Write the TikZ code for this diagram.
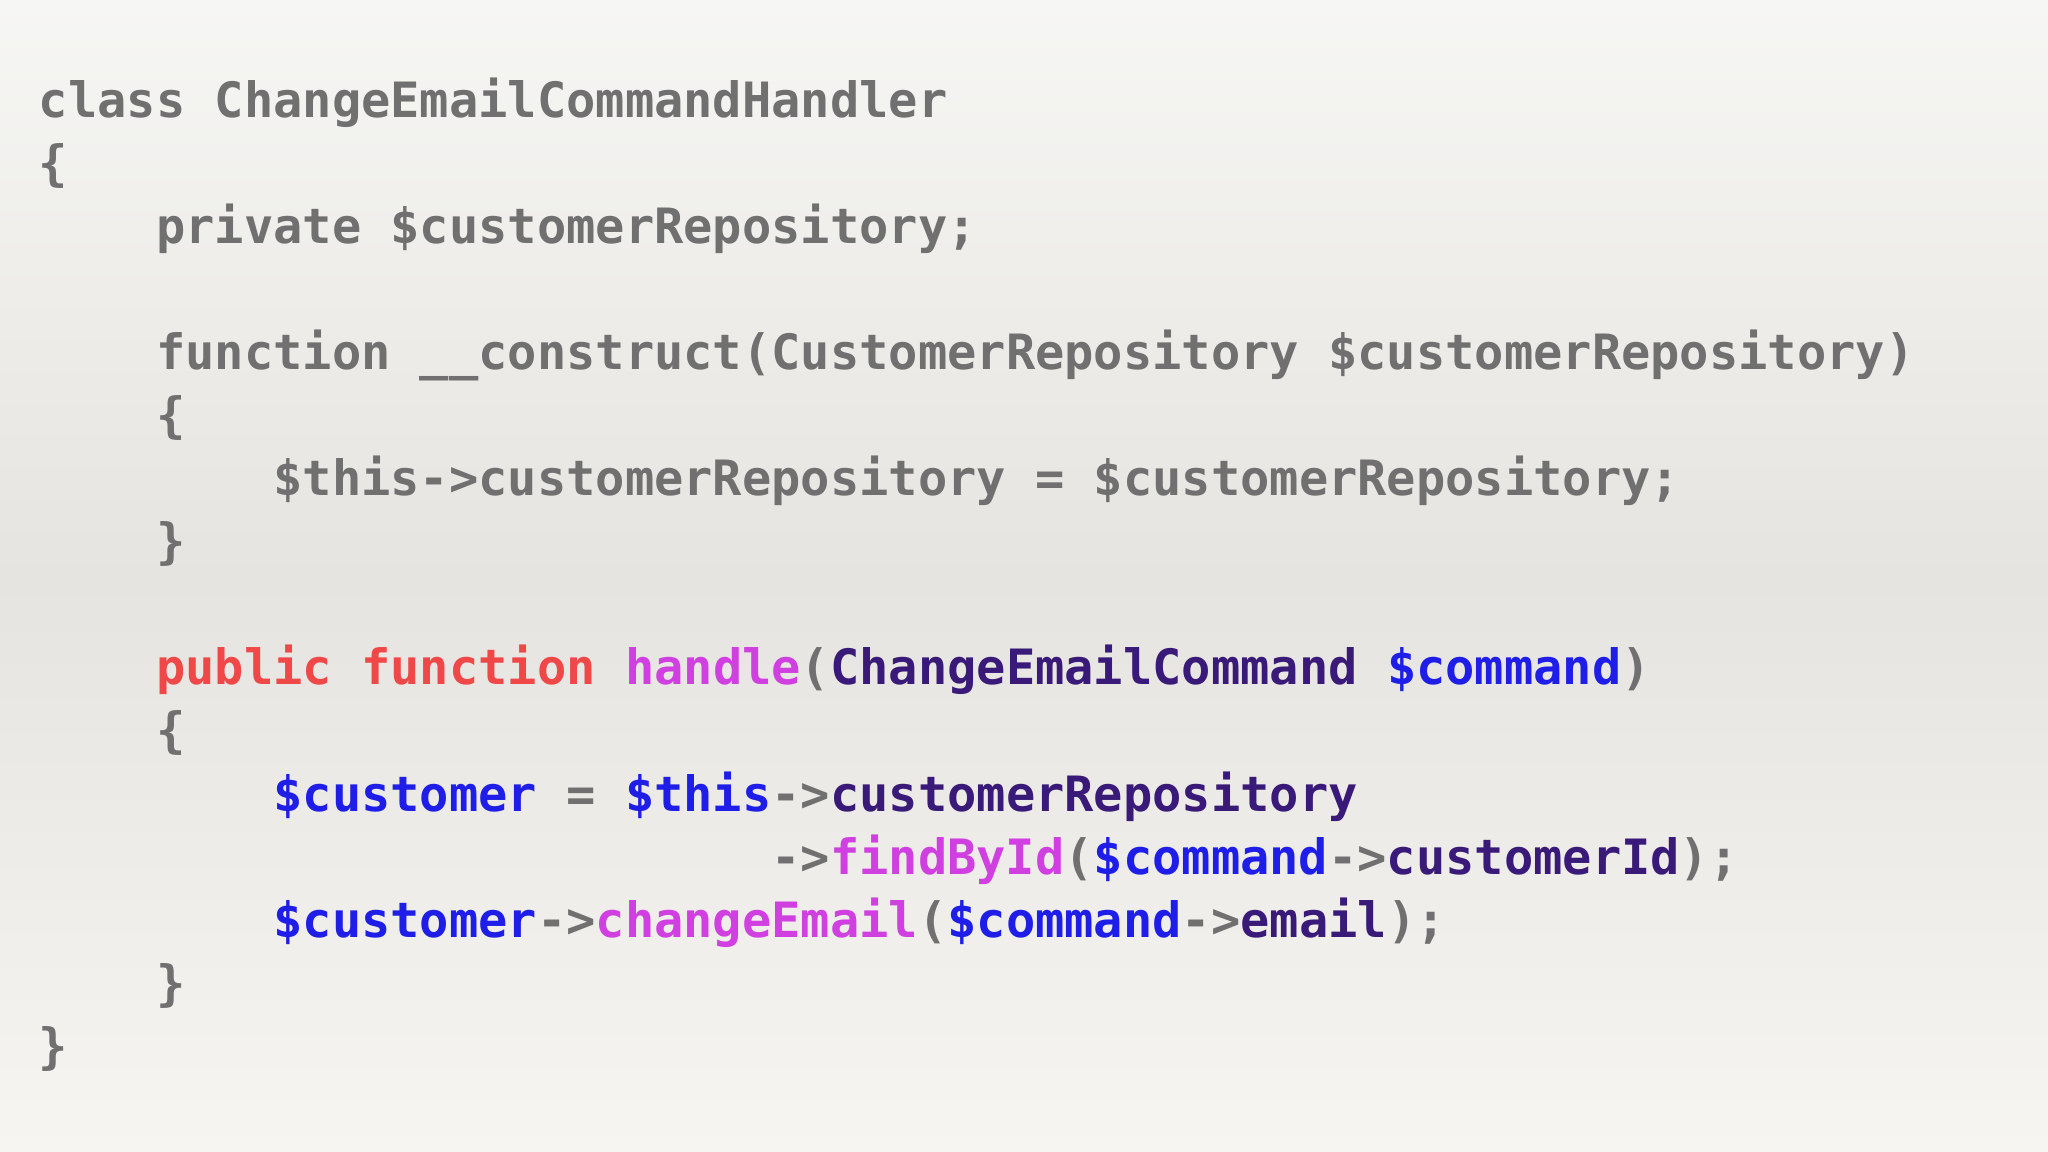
\documentclass[tikz,border=0pt]{standalone}
\usepackage{fontspec}
\setmonofont{DejaVu Sans Mono}
\definecolor{cg}{HTML}{707070}
\definecolor{cr}{HTML}{F04848}
\definecolor{cm}{HTML}{D040E0}
\definecolor{cp}{HTML}{3A1A78}
\definecolor{cb}{HTML}{1E1EE8}
\definecolor{bgt}{HTML}{F6F6F4}
\definecolor{bgm}{HTML}{E6E4E0}
\definecolor{bgb}{HTML}{F6F5F2}
\begin{document}
\begin{tikzpicture}[x=1cm,y=1cm,
  codeline/.style={anchor=base west,inner sep=0pt,outer sep=0pt,text=cg,
    font=\ttfamily\bfseries\fontsize{13.85pt}{16pt}\selectfont}]
\shade[top color=bgt,bottom color=bgm,middle color=bgm!50!bgt] (0,0) rectangle (20.48,-5.8);
\shade[top color=bgm,bottom color=bgb] (0,-5.8) rectangle (20.48,-11.52);
\useasboundingbox (0,0) rectangle (20.48,-11.52);
\def\cw{0.293}
\def\lh{0.6305}
\def\y#1{-1.175-#1*\lh}
\node[codeline] (l0) at (0.39,{\y{0}}) {class ChangeEmailCommandHandler};
\node[codeline] (l1) at (0.39,{\y{1}}) {\{};
\node[codeline] (l2) at ({0.39+4*\cw},{\y{2}}) {private \$customerRepository;};
\node[codeline] (l4) at ({0.39+4*\cw},{\y{4}}) {function \_\_construct(CustomerRepository \$customerRepository)};
\node[codeline] (l5) at ({0.39+4*\cw},{\y{5}}) {\{};
\node[codeline] (l6) at ({0.39+8*\cw},{\y{6}}) {\$this->customerRepository = \$customerRepository;};
\node[codeline] (l7) at ({0.39+4*\cw},{\y{7}}) {\}};
\node[codeline] (l9) at ({0.39+4*\cw},{\y{9}}) {\textcolor{cr}{public function} \textcolor{cm}{handle}(\textcolor{cp}{ChangeEmailCommand} \textcolor{cb}{\$command})};
\node[codeline] (l10) at ({0.39+4*\cw},{\y{10}}) {\{};
\node[codeline] (l11) at ({0.39+8*\cw},{\y{11}}) {\textcolor{cb}{\$customer} = \textcolor{cb}{\$this}->\textcolor{cp}{customerRepository}};
\node[codeline] (l12) at ({0.39+25*\cw},{\y{12}}) {->\textcolor{cm}{findById}(\textcolor{cb}{\$command}->\textcolor{cp}{customerId});};
\node[codeline] (l13) at ({0.39+8*\cw},{\y{13}}) {\textcolor{cb}{\$customer}->\textcolor{cm}{changeEmail}(\textcolor{cb}{\$command}->\textcolor{cp}{email});};
\node[codeline] (l14) at ({0.39+4*\cw},{\y{14}}) {\}};
\node[codeline] (l15) at (0.39,{\y{15}}) {\}};
\end{tikzpicture}
\end{document}
